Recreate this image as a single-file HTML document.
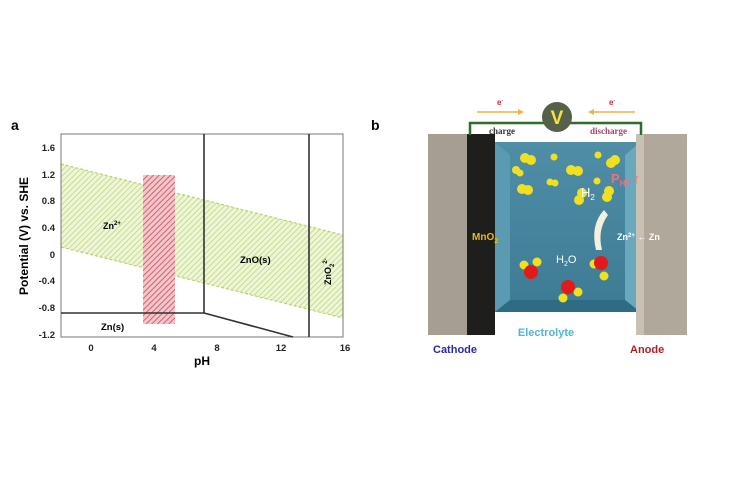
<!DOCTYPE html>
<html><head><meta charset="utf-8"><style>
html,body{margin:0;padding:0;background:#fff;}
svg{display:block;font-family:"Liberation Sans",Arial,sans-serif;}
</style></head><body>
<svg width="741" height="486" viewBox="0 0 741 486" xmlns="http://www.w3.org/2000/svg">
<defs>
<pattern id="hg" patternUnits="userSpaceOnUse" width="4" height="4" patternTransform="rotate(45)">
<rect width="4" height="4" fill="#eef6d6"/><line x1="0" y1="0" x2="0" y2="4" stroke="#b5d27a" stroke-width="1.4"/></pattern>
<pattern id="hr" patternUnits="userSpaceOnUse" width="4" height="4" patternTransform="rotate(45)">
<rect width="4" height="4" fill="#f3c6cc"/><line x1="0" y1="0" x2="0" y2="4" stroke="#c94a5a" stroke-width="1.6"/></pattern>
<linearGradient id="el" x1="0" y1="0" x2="0" y2="1"><stop offset="0" stop-color="#4f8ea6"/><stop offset="1" stop-color="#3d7b94"/></linearGradient>
</defs>
<!-- panel a -->
<text x="11" y="130" font-size="14" font-weight="bold">a</text>
<polygon points="61,164 343,235 343,318 61,247" fill="url(#hg)"/>
<line x1="61" y1="164" x2="343" y2="235" stroke="#b9d36a" stroke-width="1.2" stroke-dasharray="3,2"/>
<line x1="61" y1="247" x2="343" y2="318" stroke="#b9d36a" stroke-width="1.2" stroke-dasharray="3,2"/>
<rect x="143" y="175" width="32" height="149" fill="url(#hr)"/>
<rect x="61" y="134" width="282" height="203" fill="none" stroke="#777" stroke-width="1"/>
<g stroke="#333" stroke-width="1.6" fill="none">
<line x1="204" y1="134" x2="204" y2="313"/>
<line x1="309" y1="134" x2="309" y2="337"/>
<line x1="61" y1="313" x2="204" y2="313"/>
<line x1="204" y1="313" x2="293" y2="337"/>
</g>
<g font-size="9.5" font-weight="bold" fill="#222" text-anchor="end">
<text x="55" y="151">1.6</text><text x="55" y="178">1.2</text><text x="55" y="204">0.8</text>
<text x="55" y="231">0.4</text><text x="55" y="258">0</text><text x="55" y="284">-0.4</text>
<text x="55" y="311">-0.8</text><text x="55" y="338">-1.2</text>
</g>
<g font-size="9.5" font-weight="bold" fill="#222" text-anchor="middle">
<text x="91" y="351">0</text><text x="154" y="351">4</text><text x="217" y="351">8</text>
<text x="281" y="351">12</text><text x="345" y="351">16</text>
</g>
<text x="202" y="365" font-size="12" font-weight="bold" text-anchor="middle">pH</text>
<text transform="translate(28,236) rotate(-90)" font-size="12" font-weight="bold" text-anchor="middle">Potential (V) vs. SHE</text>
<text x="103" y="229" font-size="9" font-weight="bold">Zn<tspan font-size="6" dy="-4">2+</tspan></text>
<text x="240" y="263" font-size="9.5" font-weight="bold">ZnO(s)</text>
<text x="101" y="330" font-size="9.5" font-weight="bold">Zn(s)</text>
<text transform="translate(331,285) rotate(-90)" font-size="9" font-weight="bold">ZnO<tspan font-size="6" dy="3">2</tspan><tspan font-size="6" dy="-7">2-</tspan></text>
<!-- panel b -->
<text x="371" y="130" font-size="14" font-weight="bold">b</text>
<rect x="428" y="134" width="42" height="201" fill="#a69e93"/>
<rect x="467" y="134" width="28" height="201" fill="#1e1e1c"/>
<rect x="495" y="142" width="145" height="170" fill="url(#el)"/>
<polygon points="495,142 510,155 510,300 495,312" fill="#5b9bb2"/>
<polygon points="625,155 640,142 640,312 625,300" fill="#6aa9bd"/>
<polygon points="510,300 625,300 640,312 495,312" fill="#2f6c84"/>
<rect x="640" y="134" width="47" height="201" fill="#b1a89c"/>
<rect x="636" y="134" width="8" height="201" fill="#c9c0b4"/>
<path d="M470,135 V123 H641 V135" fill="none" stroke="#2f6d2a" stroke-width="2.5"/>
<circle cx="557" cy="117" r="15" fill="#56614a"/>
<text x="557" y="124" font-size="19" font-weight="bold" fill="#f3e33c" text-anchor="middle">V</text>
<line x1="477" y1="112" x2="522" y2="112" stroke="#f0b23c" stroke-width="1.5"/>
<polygon points="524,112 518,109 518,115" fill="#f0b23c"/>
<line x1="590" y1="112" x2="635" y2="112" stroke="#f0b23c" stroke-width="1.5"/>
<polygon points="588,112 594,109 594,115" fill="#f0b23c"/>
<text x="497" y="105" font-size="8" fill="#c23" font-weight="bold">e<tspan font-size="5" dy="-3">-</tspan></text>
<text x="609" y="105" font-size="8" fill="#c23" font-weight="bold">e<tspan font-size="5" dy="-3">-</tspan></text>
<text x="489" y="134" font-size="9" fill="#333" font-family="Liberation Serif,serif" font-weight="bold">charge</text>
<text x="590" y="134" font-size="9" fill="#a2446a" font-family="Liberation Serif,serif" font-weight="bold">discharge</text>
<g fill="#f0e020">
<circle cx="525" cy="158" r="5"/><circle cx="531" cy="160" r="5"/>
<circle cx="516" cy="170" r="4"/><circle cx="520" cy="173" r="3.5"/>
<circle cx="522" cy="189" r="5"/><circle cx="528" cy="190" r="5"/>
<circle cx="554" cy="157" r="3.5"/>
<circle cx="571" cy="170" r="5"/><circle cx="578" cy="171" r="5"/>
<circle cx="550" cy="182" r="3.5"/><circle cx="555" cy="183" r="3.5"/>
<circle cx="582" cy="193" r="5"/><circle cx="579" cy="200" r="5"/>
<circle cx="598" cy="155" r="3.5"/><circle cx="597" cy="181" r="3.5"/>
<circle cx="611" cy="163" r="5"/><circle cx="615" cy="160" r="5"/>
<circle cx="609" cy="191" r="5"/><circle cx="607" cy="197" r="5"/>
<circle cx="524" cy="265" r="4.5"/><circle cx="537" cy="262" r="4.5"/>
<circle cx="594" cy="264" r="4.5"/><circle cx="604" cy="276" r="4.5"/>
<circle cx="563" cy="298" r="4.5"/><circle cx="578" cy="292" r="4.5"/>
</g>
<g fill="#e21a1a">
<circle cx="531" cy="272" r="7"/><circle cx="601" cy="263" r="7"/><circle cx="568" cy="287" r="7"/>
</g>
<text x="581" y="197" font-size="13" fill="#fff">H<tspan font-size="8" dy="3">2</tspan></text>
<text x="611" y="183" font-size="13" fill="#f07080" font-weight="bold">P<tspan font-size="8" dy="3">H2</tspan><tspan dy="-3"> ↑</tspan></text>
<path d="M596,250 Q590,225 604,210 L608,215 Q597,230 602,250 Z" fill="#f4f0e0"/>
<text x="556" y="263" font-size="11" fill="#fff">H<tspan font-size="7" dy="3">2</tspan><tspan dy="-3">O</tspan></text>
<text x="472" y="240" font-size="10" fill="#e8b820" font-weight="bold">MnO<tspan font-size="7" dy="3">2</tspan></text>
<text x="617" y="240" font-size="9" fill="#fff" font-weight="bold">Zn<tspan font-size="6" dy="-3">2+</tspan><tspan dy="3"> ← Zn</tspan></text>
<text x="546" y="336" font-size="11" fill="#4fb6d6" font-weight="bold" text-anchor="middle">Electrolyte</text>
<text x="433" y="353" font-size="11" fill="#2a2aa8" font-weight="bold">Cathode</text>
<text x="630" y="353" font-size="11" fill="#b02020" font-weight="bold">Anode</text>
</svg>
</body></html>
